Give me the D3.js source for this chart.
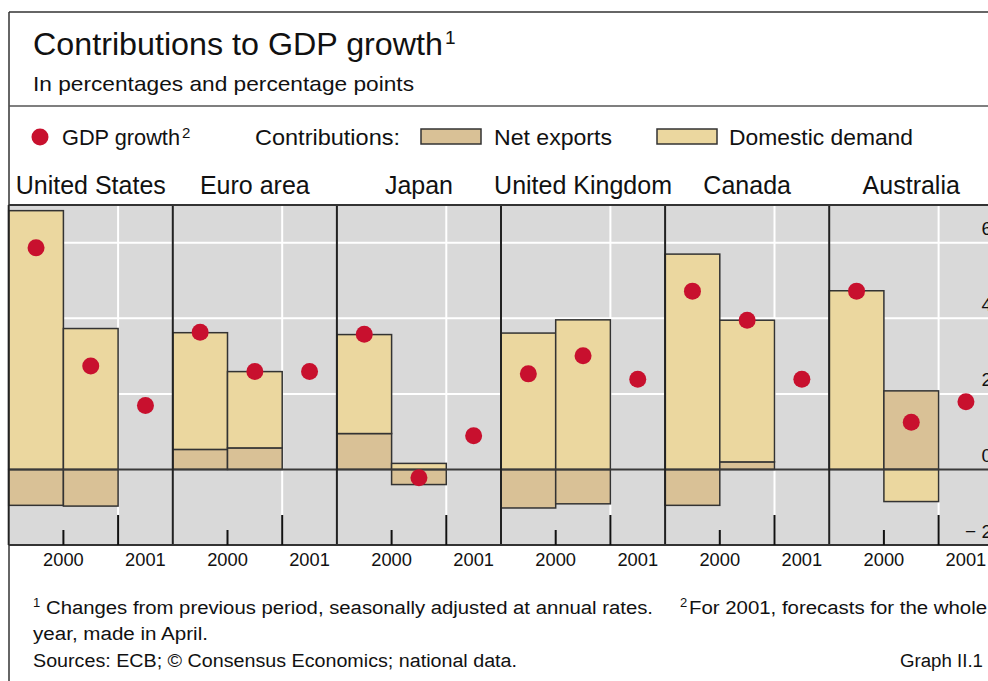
<!DOCTYPE html>
<html>
<head>
<meta charset="utf-8">
<script src="https://cdn.jsdelivr.net/npm/d3@7"></script>
<style>
  html, body { margin: 0; padding: 0; background: #fff; }
  svg { display: block; font-family: "Liberation Sans", Arial, Helvetica, sans-serif; }
</style>
</head>
<body>
<svg id="chart" width="988" height="681"></svg>
<script>
// ---------------- data ----------------
const countries = ["United States", "Euro area", "Japan", "United Kingdom", "Canada", "Australia"];
const periods = ["2000 H1", "2000 H2", "2001"];
// contributions (percentage points), 2000 first half / second half
const netExports     = [[-0.95, -0.97], [0.53, 0.57], [0.95, -0.40], [-1.02, -0.91], [-0.95, 0.20], [0.00, 2.08]];
const domesticDemand = [[6.85, 3.73], [3.09, 2.02], [2.62, 0.16], [3.61, 3.96], [5.70, 3.75], [4.73, -0.85]];
// GDP growth (%), 2000 H1, 2000 H2, 2001 forecast
const gdpGrowth      = [[5.87, 2.74, 1.69], [3.63, 2.59, 2.59], [3.58, -0.22, 0.89], [2.53, 3.01, 2.39], [4.72, 3.95, 2.39], [4.72, 1.25, 1.79]];
const yTicks = [-2, 0, 2, 4, 6];
const gridTicks = [2, 4, 6];
const yearLabels = ["2000", "2001"];

// ---------------- styles ----------------
const C = {
  bg: "#d9d9d9",
  dd: "#ebd79f",
  nx: "#d9c196",
  dot: "#c8102e",
  frame: "#333333",
  text: "#111111"
};

const svg = d3.select("#chart");

const x0 = d3.scaleBand().domain(countries).range([8.7, 993.3]).padding(0);
const x1 = d3.scaleBand().domain(periods).range([0, x0.bandwidth()]).padding(0);
const y = d3.scaleLinear().domain([-2, 7]).range([545, 205]);

function fit(sel, w) { return sel.attr("textLength", w).attr("lengthAdjust", "spacingAndGlyphs"); }

// ---------------- frame ----------------
svg.append("line").attr("x1", 9).attr("x2", 988).attr("y1", 12).attr("y2", 12).attr("stroke", C.frame).attr("stroke-width", 1.5);
svg.append("line").attr("x1", 9).attr("x2", 9).attr("y1", 12).attr("y2", 681).attr("stroke", C.frame).attr("stroke-width", 1.5);
svg.append("line").attr("x1", 9).attr("x2", 988).attr("y1", 106).attr("y2", 106).attr("stroke", "#555").attr("stroke-width", 1.5);

// ---------------- titles ----------------
fit(svg.append("text").attr("x", 33).attr("y", 55).attr("font-size", 32).attr("fill", C.text)
  .text("Contributions to GDP growth"), 410);
svg.append("text").attr("x", 445).attr("y", 44).attr("font-size", 19).attr("fill", C.text).text("1");
fit(svg.append("text").attr("x", 33).attr("y", 91).attr("font-size", 21).attr("fill", C.text)
  .text("In percentages and percentage points"), 381);

// ---------------- legend ----------------
const lg = svg.append("g");
lg.append("circle").attr("cx", 40).attr("cy", 137).attr("r", 8.5).attr("fill", C.dot);
fit(lg.append("text").attr("x", 62).attr("y", 145).attr("font-size", 22).attr("fill", C.text).text("GDP growth"), 118);
lg.append("text").attr("x", 182).attr("y", 138).attr("font-size", 15).attr("fill", C.text).text("2");
fit(lg.append("text").attr("x", 255).attr("y", 145).attr("font-size", 22).attr("fill", C.text).text("Contributions:"), 145);
lg.append("rect").attr("x", 421).attr("y", 129).attr("width", 60).attr("height", 15)
  .attr("fill", C.nx).attr("stroke", C.frame).attr("stroke-width", 1.5);
fit(lg.append("text").attr("x", 494).attr("y", 145).attr("font-size", 22).attr("fill", C.text).text("Net exports"), 118);
lg.append("rect").attr("x", 657).attr("y", 129).attr("width", 60).attr("height", 15)
  .attr("fill", C.dd).attr("stroke", C.frame).attr("stroke-width", 1.5);
fit(lg.append("text").attr("x", 729).attr("y", 145).attr("font-size", 22).attr("fill", C.text).text("Domestic demand"), 184);

// ---------------- panel titles ----------------
svg.append("g").selectAll("text").data(countries).join("text")
  .attr("x", d => x0(d) + x0.bandwidth() / 2)
  .attr("y", 194)
  .attr("text-anchor", "middle")
  .attr("font-size", 25)
  .attr("fill", C.text)
  .text(d => d);

// ---------------- plot ----------------
const plot = svg.append("g");
const [xL, xR] = x0.range();
plot.append("rect").attr("x", xL).attr("y", y(7)).attr("width", xR - xL).attr("height", y(-2) - y(7)).attr("fill", C.bg);

// horizontal white grid
plot.append("g").selectAll("line").data(gridTicks).join("line")
  .attr("x1", xL).attr("x2", xR).attr("y1", d => y(d)).attr("y2", d => y(d))
  .attr("stroke", "#fff").attr("stroke-width", 2);

// vertical white grid at year boundary
plot.append("g").selectAll("line").data(countries).join("line")
  .attr("x1", d => x0(d) + x1("2001")).attr("x2", d => x0(d) + x1("2001"))
  .attr("y1", y(7)).attr("y2", y(-2))
  .attr("stroke", "#fff").attr("stroke-width", 2);

// bar segments
const segs = [];
countries.forEach((c, i) => {
  [0, 1].forEach(k => {
    const nx = netExports[i][k], dd = domesticDemand[i][k];
    const p = periods[k];
    segs.push({ c, p, kind: "nx", y0: 0, y1: nx });
    const base = (dd >= 0 && nx >= 0) || (dd < 0 && nx < 0) ? nx : 0;
    segs.push({ c, p, kind: "dd", y0: base, y1: base + dd });
  });
});
plot.append("g").selectAll("rect").data(segs.filter(s => s.y1 !== s.y0)).join("rect")
  .attr("x", d => x0(d.c) + x1(d.p))
  .attr("width", x1.bandwidth())
  .attr("y", d => y(Math.max(d.y0, d.y1)))
  .attr("height", d => Math.abs(y(d.y0) - y(d.y1)))
  .attr("fill", d => d.kind === "nx" ? C.nx : C.dd)
  .attr("stroke", C.frame).attr("stroke-width", 1.5);

// zero line
plot.append("line").attr("x1", xL).attr("x2", xR).attr("y1", y(0)).attr("y2", y(0))
  .attr("stroke", "#3a3a3a").attr("stroke-width", 2);

// panel separators
plot.append("g").selectAll("line").data(countries).join("line")
  .attr("x1", d => x0(d)).attr("x2", d => x0(d))
  .attr("y1", y(7)).attr("y2", y(-2))
  .attr("stroke", "#222").attr("stroke-width", 2);

// top / bottom borders
plot.append("line").attr("x1", xL).attr("x2", xR).attr("y1", y(7)).attr("y2", y(7)).attr("stroke", "#333").attr("stroke-width", 2);
plot.append("line").attr("x1", xL).attr("x2", xR).attr("y1", y(-2)).attr("y2", y(-2)).attr("stroke", "#333").attr("stroke-width", 2);

// category ticks
const tk = plot.append("g");
tk.selectAll("line.mid").data(countries).join("line").attr("class", "mid")
  .attr("x1", d => x0(d) + x1("2000 H2")).attr("x2", d => x0(d) + x1("2000 H2"))
  .attr("y1", y(-2) - 15).attr("y2", y(-2)).attr("stroke", "#111").attr("stroke-width", 2);
tk.selectAll("line.yr").data(countries).join("line").attr("class", "yr")
  .attr("x1", d => x0(d) + x1("2001")).attr("x2", d => x0(d) + x1("2001"))
  .attr("y1", y(-2) - 30).attr("y2", y(-2)).attr("stroke", "#111").attr("stroke-width", 2);

// GDP dots
const dots = [];
countries.forEach((c, i) => periods.forEach((p, k) => dots.push({ c, p, v: gdpGrowth[i][k] })));
plot.append("g").selectAll("circle").data(dots).join("circle")
  .attr("cx", d => x0(d.c) + x1(d.p) + x1.bandwidth() / 2)
  .attr("cy", d => y(d.v))
  .attr("r", 8.5)
  .attr("fill", C.dot);

// y axis labels (right, inside; cut by the edge as in the original)
plot.append("g").selectAll("text").data(yTicks).join("text")
  .attr("x", 992)
  .attr("y", d => y(d) - 7.5)
  .attr("text-anchor", "end")
  .attr("font-size", 19)
  .attr("fill", C.text)
  .text(d => d < 0 ? "\u2212 " + Math.abs(d) : String(d));

// year labels
const yl = [];
countries.forEach(c => {
  yl.push({ x: x0(c) + x1("2000 H2"), t: yearLabels[0] });
  yl.push({ x: x0(c) + x1("2001") + x1.bandwidth() / 2, t: yearLabels[1] });
});
svg.append("g").selectAll("text").data(yl).join("text")
  .attr("x", d => d.x).attr("y", 566)
  .attr("text-anchor", "middle").attr("font-size", 18.3).attr("fill", C.text)
  .text(d => d.t);

// ---------------- footnotes ----------------
const fn = svg.append("g").attr("fill", C.text);
fn.append("text").attr("x", 33).attr("y", 607).attr("font-size", 13).text("1");
fit(fn.append("text").attr("x", 46).attr("y", 614).attr("font-size", 18)
  .text("Changes from previous period, seasonally adjusted at annual rates."), 607);
fn.append("text").attr("x", 680).attr("y", 607).attr("font-size", 13).text("2");
fit(fn.append("text").attr("x", 689).attr("y", 614).attr("font-size", 18)
  .text("For 2001, forecasts for the whole"), 298);
fit(fn.append("text").attr("x", 33).attr("y", 640).attr("font-size", 18)
  .text("year, made in April."), 175);
fit(fn.append("text").attr("x", 33).attr("y", 667).attr("font-size", 18)
  .text("Sources: ECB; \u00A9 Consensus Economics; national data."), 484);
fit(fn.append("text").attr("x", 900).attr("y", 667).attr("font-size", 18)
  .text("Graph II.1"), 83);
</script>
</body>
</html>
